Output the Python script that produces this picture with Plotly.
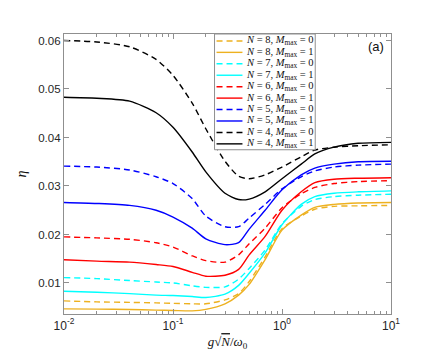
import plotly.graph_objects as go

# --- Data ---
x_vals = [0.01, 0.02, 0.04, 0.07, 0.1, 0.15, 0.2, 0.3, 0.4, 0.5, 0.7, 1.0, 1.5, 2, 3, 5, 10]

eta_N8_M0 = [0.0063, 0.0061, 0.0060, 0.0059, 0.0058, 0.0057, 0.0057, 0.0065, 0.0078, 0.0103, 0.0154, 0.0212, 0.0238, 0.0252, 0.0258, 0.0259, 0.0260]
eta_N8_M1 = [0.00465, 0.0046, 0.00453, 0.0044, 0.00433, 0.00425, 0.00455, 0.0057, 0.0075, 0.0097, 0.0148, 0.0209, 0.0240, 0.0256, 0.0262, 0.0265, 0.0266]
eta_N7_M0 = [0.0111, 0.0109, 0.0105, 0.0102, 0.0100, 0.0094, 0.0091, 0.0092, 0.0108, 0.0130, 0.0168, 0.0222, 0.0258, 0.0272, 0.0278, 0.0281, 0.0283]
eta_N7_M1 = [0.0083, 0.0081, 0.0078, 0.0075, 0.0074, 0.0072, 0.0070, 0.0077, 0.0095, 0.0120, 0.0162, 0.0220, 0.0262, 0.0278, 0.0285, 0.0288, 0.0290]
eta_N6_M0 = [0.0195, 0.0193, 0.0190, 0.0183, 0.0174, 0.0156, 0.0146, 0.0143, 0.0158, 0.0181, 0.0213, 0.0255, 0.0284, 0.0297, 0.0305, 0.0309, 0.0311]
eta_N6_M1 = [0.0148, 0.0145, 0.0143, 0.0138, 0.0134, 0.0122, 0.0114, 0.0116, 0.0128, 0.0158, 0.0196, 0.0250, 0.0288, 0.0307, 0.0314, 0.0316, 0.0317]
eta_N5_M0 = [0.0341, 0.0339, 0.0333, 0.0319, 0.0305, 0.0274, 0.0238, 0.0216, 0.0216, 0.0234, 0.0262, 0.0294, 0.0319, 0.0331, 0.0339, 0.0343, 0.0345]
eta_N5_M1 = [0.0266, 0.0264, 0.0260, 0.0250, 0.0236, 0.0213, 0.0191, 0.0179, 0.0183, 0.0211, 0.0250, 0.0292, 0.0323, 0.0337, 0.0345, 0.0350, 0.0351]
eta_N4_M0 = [0.0600, 0.0597, 0.0587, 0.0561, 0.0528, 0.0471, 0.0418, 0.0351, 0.0320, 0.0315, 0.0323, 0.0339, 0.0360, 0.0374, 0.0380, 0.0383, 0.0385]
eta_N4_M1 = [0.0483, 0.0481, 0.0475, 0.0451, 0.0421, 0.0370, 0.0329, 0.0285, 0.0272, 0.0273, 0.0288, 0.0315, 0.0345, 0.0366, 0.0380, 0.0388, 0.0390]

series_N = [8, 8, 7, 7, 6, 6, 5, 5, 4, 4]
series_M = [0, 1, 0, 1, 0, 1, 0, 1, 0, 1]
series_eta = [eta_N8_M0, eta_N8_M1, eta_N7_M0, eta_N7_M1, eta_N6_M0,
              eta_N6_M1, eta_N5_M0, eta_N5_M1, eta_N4_M0, eta_N4_M1]

x_ticks = [0.01, 0.1, 1, 10]
x_ticklabels = ["10<sup>-2</sup>", "10<sup>-1</sup>", "10<sup>0</sup>", "10<sup>1</sup>"]
x_minor = [d * 10 ** e for e in (-2, -1, 0) for d in range(2, 10)]
y_ticks = [0.01, 0.02, 0.03, 0.04, 0.05, 0.06]

# --- Styles ---
COLORS = {8: "#EDB120", 7: "#00FFFF", 6: "#FF0000", 5: "#0000FF", 4: "#000000"}
DASH = {0: "6px,4px", 1: "solid"}
SERIF = "Liberation Serif, DejaVu Serif, serif"
SANS = "Liberation Sans, Arial, sans-serif"
AXIS_COLOR = "#8f8f8f"


def label(n, m):
    return f"<i>N</i> = {n}, <i>M</i><sub>max</sub> = {m}"


fig = go.Figure()
for n, m, eta in zip(series_N, series_M, series_eta):
    fig.add_trace(go.Scatter(
        x=x_vals, y=eta, mode="lines", name=label(n, m), showlegend=False,
        line=dict(color=COLORS[n], width=1.4, dash=DASH[m], shape="spline", smoothing=0.7),
    ))

# --- Hand-built legend (plotly's rows are too tall for this layout) ---
shapes = []
annotations = []
plot_w, plot_h = 328.0, 283.0
box_x0, box_x1 = (206 - 55) / plot_w, (307 - 55) / plot_w
box_y1, box_y0 = 1.0, 1 - (143 - 26) / plot_h
shapes.append(dict(type="rect", xref="paper", yref="paper",
                   x0=box_x0, x1=box_x1, y0=box_y0, y1=box_y1,
                   line=dict(color=AXIS_COLOR, width=1), fillcolor="white", layer="above"))
for i, (n, m) in enumerate(zip(series_N, series_M)):
    yy = 1 - (7.0 + i * 11.56) / plot_h
    shapes.append(dict(type="line", xref="paper", yref="paper",
                       x0=(208 - 55) / plot_w, x1=(234 - 55) / plot_w, y0=yy, y1=yy,
                       line=dict(color=COLORS[n], width=1.4, dash=DASH[m]), layer="above"))
    annotations.append(dict(xref="paper", yref="paper", x=(236 - 55) / plot_w, y=yy,
                            xanchor="left", yanchor="middle", showarrow=False,
                            text=label(n, m), font=dict(family=SERIF, size=10.5, color="#111")))

annotations.append(dict(xref="paper", yref="paper", x=(368 - 55) / plot_w, y=1 - (39 - 26) / plot_h,
                        xanchor="center", yanchor="middle", showarrow=False,
                        text="(a)", font=dict(family=SANS, size=13, color="#111")))

fig.update_layout(
    width=424, height=351,
    margin=dict(l=55, r=41, t=26, b=42),
    paper_bgcolor="white", plot_bgcolor="white",
    shapes=shapes, annotations=annotations,
    font=dict(family=SANS, size=11, color="#262626"),
)
fig.update_xaxes(
    type="log", range=[-2, 1], tickmode="array", tickvals=x_ticks, ticktext=x_ticklabels,
    showgrid=False, zeroline=False,
    showline=True, linecolor=AXIS_COLOR, linewidth=1.2, mirror="allticks",
    ticks="inside", ticklen=5, tickcolor=AXIS_COLOR,
    minor=dict(tickmode="array", tickvals=x_minor, ticks="inside", ticklen=3,
               tickcolor=AXIS_COLOR, showgrid=False),
    tickfont=dict(size=12),
    title=dict(text="<i>g</i>√<span style='text-decoration:overline'><i>N</i></span>/<i>ω</i><sub>0</sub>",
               font=dict(family=SERIF, size=13, color="#111"), standoff=5),
)
fig.update_yaxes(
    range=[0.0036, 0.06134], tickvals=y_ticks, tickformat=".2f",
    showgrid=False, zeroline=False,
    showline=True, linecolor=AXIS_COLOR, linewidth=1.2, mirror="allticks",
    ticks="inside", ticklen=5, tickcolor=AXIS_COLOR,
    tickfont=dict(size=11.5),
    title=dict(text="<i>η</i>", font=dict(family=SERIF, size=14, color="#111"), standoff=8),
)

fig.write_html("out.html")
